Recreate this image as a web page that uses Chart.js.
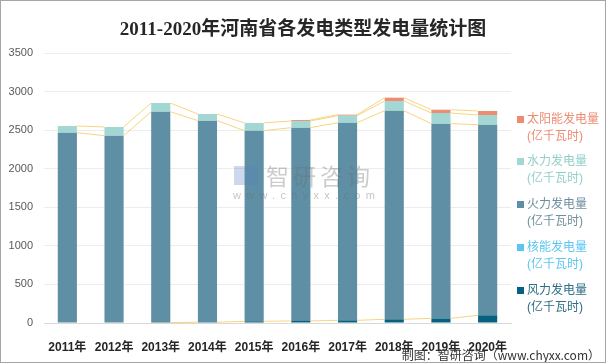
<!DOCTYPE html>
<html>
<head>
<meta charset="utf-8">
<script src="https://cdn.jsdelivr.net/npm/chart.js@4/dist/chart.umd.min.js"></script>
<style>
  body { margin: 0; background: #fff; }
  #wrap { position: relative; width: 606px; height: 363px; font-family: "Liberation Sans", "Noto Sans CJK SC", sans-serif; }
  #frame { position: absolute; left: 0; top: 0; width: 606px; height: 363px; box-sizing: border-box; border: 1px solid #A6A6A6; pointer-events: none; }
  #title { position: absolute; left: 0; width: 606px; top: 13px; text-align: center; font: bold 19px "Liberation Serif", "Noto Sans CJK SC", serif; color: #262626; }
  .lg { position: absolute; left: 517px; font-size: 12px; line-height: 17px; }
  .lg i { position: absolute; left: 0; top: 5px; width: 7px; height: 7px; }
  .lg span { display: block; padding-left: 10px; white-space: nowrap; }
  #foot { position: absolute; right: 6px; top: 346px; font: 12px "Noto Sans CJK SC", sans-serif; color: #333; }
  #wm1 { position: absolute; left: 266px; top: 158px; font: 23px "Noto Sans CJK SC", sans-serif; letter-spacing: 4px; color: rgba(110,110,110,0.35); }
  #wm2 { position: absolute; left: 233px; top: 189px; font: 11px "Liberation Sans", sans-serif; letter-spacing: 5.3px; color: rgba(110,110,110,0.4); }
  #logo { position: absolute; left: 234px; top: 166px; width: 24px; height: 19px; background: rgba(90,130,190,0.3); }
</style>
</head>
<body>
<div id="wrap">
  <canvas id="canvas" width="606" height="363"></canvas>
  <div id="title">2011-2020年河南省各发电类型发电量统计图</div>
  <div id="logo"></div>
  <div id="wm1">智研咨询</div>
  <div id="wm2">www.chyxx.com</div>
  <div id="legend"></div>
  <div id="foot">制图：智研咨询（www.chyxx.com）</div>
  <div id="frame"></div>
</div>
<script>
// 亿千瓦时
var years = ["2011年", "2012年", "2013年", "2014年", "2015年", "2016年", "2017年", "2018年", "2019年", "2020年"];
var wind    = [0, 0, 5, 10, 22, 27, 35, 48, 60, 100];
var nuclear = [0, 0, 0, 0, 0, 0, 0, 0, 0, 0];
var thermal = [2467, 2428, 2734, 2613, 2471, 2505, 2562, 2704, 2524, 2471];
var hydro   = [87, 113, 113, 86, 100, 87, 91, 126, 138, 125];
var solar   = [0, 0, 0, 0, 0, 13, 13, 43, 43, 52];
var yTicks  = [0, 500, 1000, 1500, 2000, 2500, 3000, 3500];

var series = [
    { label: "风力发电量", data: wind, color: "#06607F", text: "#2F6E88", y: 282 },
    { label: "核能发电量", data: nuclear, color: "#5BC6F2", text: "#5BC6F2", y: 239 },
    { label: "火力发电量", data: thermal, color: "#5E8FA5", text: "#6F8E9E", y: 196 },
    { label: "水力发电量", data: hydro, color: "#A2D7D3", text: "#93CFCA", y: 153 },
    { label: "太阳能发电量", data: solar, color: "#EE8C72", text: "#EE8C72", y: 111 }
];

// html legend, top item is the last series
var lg = document.getElementById('legend');
series.forEach(function(s){
    var d = document.createElement('div');
    d.className = 'lg';
    d.style.top = s.y + 'px';
    d.style.color = s.text;
    d.innerHTML = '<i style="background:' + s.color + '"></i><span>' + s.label + '</span><span>(亿千瓦时)</span>';
    lg.appendChild(d);
});

// excel style series lines between stacked bars
var seriesLines = {
    id: 'seriesLines',
    afterDatasetsDraw: function(chart) {
        var ctx = chart.ctx;
        ctx.save();
        ctx.strokeStyle = '#F8D480';
        ctx.lineWidth = 1;
        chart.data.datasets.forEach(function(ds, di){
            var meta = chart.getDatasetMeta(di);
            for (var i = 0; i < ds.data.length - 1; i++) {
                if (!ds.data[i] || !ds.data[i + 1]) continue;
                var a = meta.data[i], b = meta.data[i + 1];
                ctx.beginPath();
                ctx.moveTo(a.x + a.width / 2, a.y);
                ctx.lineTo(b.x - b.width / 2, b.y);
                ctx.stroke();
            }
        });
        ctx.restore();
    }
};

var ctx = document.getElementById('canvas').getContext('2d');
var myChart = new Chart(ctx, {
    type: 'bar',
    data: {
        labels: years,
        datasets: series.map(function(s){
            return {
                label: s.label,
                data: s.data,
                backgroundColor: s.color,
                barPercentage: 0.41,
                categoryPercentage: 1
            };
        })
    },
    options: {
        responsive: false,
        animation: false,
        layout: { padding: { left: 0, right: 95, top: 53, bottom: 0 } },
        plugins: {
            legend: { display: false },
            title: { display: false },
            tooltip: { enabled: false }
        },
        scales: {
            x: {
                stacked: true,
                grid: { display: false },
                border: { color: '#D9D9D9' },
                ticks: { color: '#262626', font: { size: 12, weight: 'bold', family: '"Liberation Sans", "Noto Sans CJK SC"' }, padding: 9, maxRotation: 0 },
                afterFit: function(scale) { scale.height = 40; }
            },
            y: {
                stacked: true,
                min: 0,
                max: 3500,
                afterBuildTicks: function(scale) {
                    scale.ticks = yTicks.map(function(v){ return { value: v }; });
                },
                grid: { color: '#ECECEC', drawTicks: false },
                border: { display: false },
                ticks: {
                    color: '#595959',
                    font: { size: 11, family: '"Liberation Sans"' },
                    padding: 11,
                    callback: function(v) { return String(v); }
                },
                afterFit: function(scale) { scale.width = 44; }
            }
        }
    },
    plugins: [seriesLines]
});
</script>
</body>
</html>
